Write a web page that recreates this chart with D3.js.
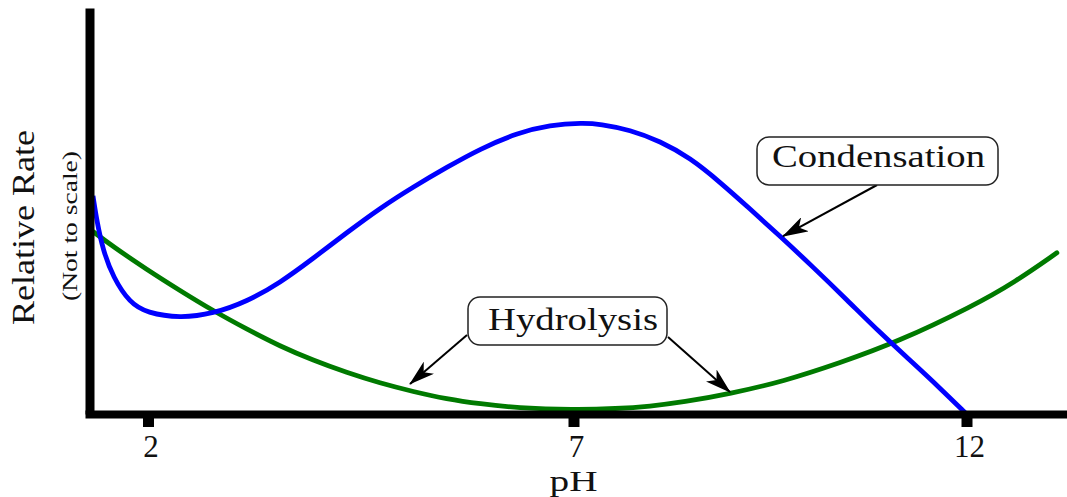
<!DOCTYPE html>
<html>
<head>
<meta charset="utf-8">
<script src="https://cdn.jsdelivr.net/npm/d3@7"></script>
<style>
  html, body { margin: 0; padding: 0; background: #fff; }
  svg { display: block; font-family: "Liberation Serif", "Tinos", "Times New Roman", serif; }
</style>
</head>
<body>
<svg id="chart" width="1067" height="497"></svg>
<script>
// ---- Data ----
const xTicks = [2, 7, 12];
const xTickLabels = ["2", "7", "12"];

const condensationPH   = [1.354, 1.401, 1.471, 1.589, 1.788, 1.988, 2.376, 2.764, 3.163, 3.551, 3.939, 4.338, 4.726, 5.114, 5.513, 5.901, 6.336, 6.724, 7.121, 7.337, 7.719, 8.101, 8.483, 8.865, 9.246, 9.628, 10.047, 10.480, 10.900, 11.318, 11.662, 12.0];
const condensationRate = [5.37, 4.73, 4.04, 3.37, 2.73, 2.49, 2.36, 2.47, 2.77, 3.23, 3.83, 4.47, 5.07, 5.59, 6.08, 6.53, 6.92, 7.12, 7.17, 7.14, 7.00, 6.72, 6.31, 5.71, 5.05, 4.38, 3.62, 2.81, 2.00, 1.26, 0.64, 0.0];

const hydrolysisPH   = [1.357, 1.592, 1.985, 2.376, 2.767, 3.160, 3.551, 3.942, 4.335, 4.726, 5.118, 5.510, 5.901, 6.336, 7.0, 7.553, 7.973, 8.393, 8.991, 9.666, 10.391, 11.117, 12.083, 12.617, 13.151];
const hydrolysisRate = [4.49, 4.12, 3.56, 3.04, 2.54, 2.09, 1.67, 1.32, 1.02, 0.76, 0.55, 0.37, 0.25, 0.15, 0.10, 0.13, 0.19, 0.29, 0.50, 0.80, 1.26, 1.77, 2.66, 3.25, 3.97];

// annotation arrow targets (pH, rate)
const condensationTarget = [9.666, 4.38];
const hydrolysisTargets = [[5.079, 0.74], [8.991, 0.54]];

// ---- Layout ----
const svg = d3.select("#chart");

// The reference's pH axis is not evenly spaced between ticks; a piecewise scale reproduces it.
const x = d3.scaleLinear()
  .domain([1.26, 2, 7, 12, 13.28])
  .range([85, 148, 573.5, 966.5, 1067]);
const y = d3.scaleLinear().domain([0, 10]).range([414, 8]);

const defs = svg.append("defs");
defs.append("marker")
  .attr("id", "arrow")
  .attr("markerUnits", "userSpaceOnUse")
  .attr("viewBox", "0 0 26 16")
  .attr("markerWidth", 26).attr("markerHeight", 16)
  .attr("refX", 25).attr("refY", 8)
  .attr("orient", "auto")
  .append("path")
  .attr("d", "M0,0 L26,8 L0,16 L7,8 Z")
  .attr("fill", "#000");

// ---- Curves ----
const line = d3.line()
  .x(d => x(d[0])).y(d => y(d[1]))
  .curve(d3.curveBasis);

const greenData = hydrolysisPH.map((p, i) => [p, hydrolysisRate[i]]);
const blueData = condensationPH.map((p, i) => [p, condensationRate[i]]);

svg.append("path").datum(greenData)
  .attr("d", line).attr("fill", "none")
  .attr("stroke", "#007a00").attr("stroke-width", 4.8)
  .attr("stroke-linecap", "round");

svg.append("path").datum(blueData)
  .attr("d", line).attr("fill", "none")
  .attr("stroke", "#0000ff").attr("stroke-width", 4.8)
  .attr("stroke-linecap", "butt");

// ---- Axes ----
const xAxis = d3.axisBottom(x)
  .tickValues(xTicks).tickSize(13).tickSizeOuter(0)
  .tickFormat((d, i) => xTickLabels[i]);
const gx = svg.append("g").attr("transform", `translate(0,${y(0)})`).call(xAxis);
gx.select(".domain").attr("stroke", "#000").attr("stroke-width", 8);
gx.selectAll(".tick line").attr("stroke", "#000").attr("stroke-width", 11);
gx.selectAll(".tick text")
  .attr("y", 43).attr("dy", 0).attr("dx", 2.5)
  .attr("font-size", 31)
  .attr("font-family", "Liberation Serif, Tinos, Times New Roman, serif")
  .attr("fill", "#111");

const yAxis = d3.axisLeft(y).tickValues([]).tickSizeOuter(0);
const gy = svg.append("g").attr("transform", `translate(${x(1.26) + 4.5},0)`).call(yAxis);
gy.select(".domain").attr("stroke", "#000").attr("stroke-width", 9);

// axis titles
svg.append("text")
  .attr("x", x(7)).attr("y", 491)
  .attr("text-anchor", "middle")
  .attr("font-size", 30).attr("fill", "#111")
  .attr("textLength", 48).attr("lengthAdjust", "spacingAndGlyphs")
  .text("pH");

svg.append("text")
  .attr("transform", "translate(34,227.5) rotate(-90)")
  .attr("text-anchor", "middle")
  .attr("font-size", 31).attr("fill", "#111")
  .attr("textLength", 195).attr("lengthAdjust", "spacingAndGlyphs")
  .text("Relative Rate");

svg.append("text")
  .attr("transform", "translate(77,226) rotate(-90)")
  .attr("text-anchor", "middle")
  .attr("font-size", 22).attr("fill", "#111")
  .attr("textLength", 150).attr("lengthAdjust", "spacingAndGlyphs")
  .text("(Not to scale)");

// ---- Annotations ----
function arrow(x1, y1, x2, y2) {
  svg.append("line")
    .attr("x1", x1).attr("y1", y1).attr("x2", x2).attr("y2", y2)
    .attr("stroke", "#000").attr("stroke-width", 2)
    .attr("marker-end", "url(#arrow)");
}
function labelBox(bx, by, bw, bh, tx, ty, tl, txt) {
  svg.append("rect")
    .attr("x", bx).attr("y", by).attr("width", bw).attr("height", bh)
    .attr("rx", 12).attr("ry", 12)
    .attr("fill", "#fff").attr("stroke", "#222").attr("stroke-width", 1.5);
  svg.append("text")
    .attr("x", tx).attr("y", ty)
    .attr("font-size", 32).attr("fill", "#111")
    .attr("textLength", tl).attr("lengthAdjust", "spacingAndGlyphs")
    .text(txt);
}

// Condensation
arrow(877, 185, x(condensationTarget[0]), y(condensationTarget[1]));
labelBox(757, 137, 241, 48, 772, 167, 213, "Condensation");

// Hydrolysis
arrow(467, 335, x(hydrolysisTargets[0][0]), y(hydrolysisTargets[0][1]));
arrow(668, 337, x(hydrolysisTargets[1][0]), y(hydrolysisTargets[1][1]));
labelBox(468, 297, 199, 48, 488, 330, 170, "Hydrolysis");
</script>
</body>
</html>
